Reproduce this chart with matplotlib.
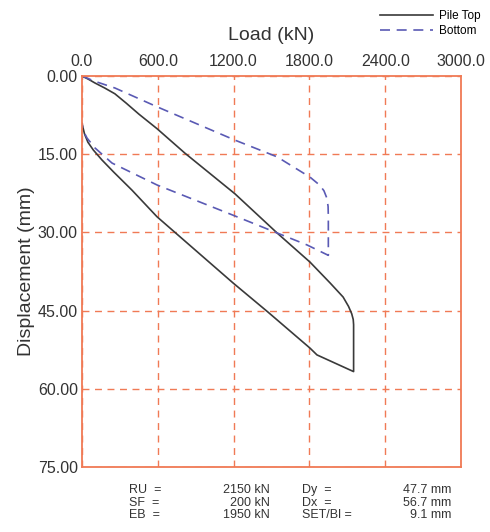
import matplotlib
matplotlib.use("Agg")
import matplotlib.pyplot as plt

plt.rcParams["font.family"] = ["Liberation Sans", "DejaVu Sans"]

# pile top: loading then unloading (load kN, displacement mm)
top_load = [0, 50, 100, 180, 260, 350, 450, 594, 815, 1211, 1544, 1805, 1964, 2067, 2110, 2135, 2147, 2150, 2150,
            1860, 1805, 1473, 1196, 594, 396, 250, 158, 90, 47, 20, 0]
top_disp = [0, 0.6, 1.3, 2.3, 3.4, 5.2, 7.3, 10.1, 14.8, 22.6, 30.1, 35.7, 39.7, 42.4, 44.2, 45.6, 46.7, 47.7, 56.7,
            53.5, 52.2, 45.3, 39.7, 27.0, 21.9, 18.4, 16.1, 14.2, 12.7, 11.1, 9.1]

# pile bottom
bot_load = [0, 100, 261, 594, 1211, 1544, 1805, 1880, 1915, 1938, 1948, 1950, 1950,
            1781, 1544, 1196, 594, 238, 103, 40, 8, 0]
bot_disp = [0, 1.0, 2.3, 5.9, 12.3, 15.5, 19.4, 20.9, 22.0, 23.4, 25.0, 27.0, 34.4,
            32.4, 30.1, 26.7, 20.9, 16.7, 13.8, 11.9, 10.4, 9.0]

x_ticks = [0, 600, 1200, 1800, 2400, 3000]
y_ticks = [0, 15, 30, 45, 60, 75]

summary_left = [("RU  =", "2150 kN"), ("SF  =", "200 kN"), ("EB  =", "1950 kN")]
summary_right = [("Dy  =", "47.7 mm"), ("Dx  =", "56.7 mm"), ("SET/Bl =", "9.1 mm")]

orange = "#f07a55"
txt = "#333333"

fig = plt.figure(figsize=(4.9, 5.32), dpi=100)
ax = fig.add_axes([0.1673, 0.1222, 0.7735, 0.7349])

l1, = ax.plot(top_load, top_disp, color="#3a3a3a", lw=1.2, label="Pile Top")
l2, = ax.plot(bot_load, bot_disp, color="#5a5ab4", lw=1.2, linestyle=(0, (6, 4)), label="Bottom")

ax.set_xlim(0, 3000)
ax.set_ylim(75, 0)
ax.set_xticks(x_ticks)
ax.set_yticks(y_ticks)
ax.set_xticklabels(["%.1f" % v for v in x_ticks])
ax.set_yticklabels(["%.2f" % v for v in y_ticks])
ax.xaxis.tick_top()
ax.xaxis.set_label_position("top")
ax.tick_params(length=0, labelsize=11.5, colors=txt)
ax.tick_params(axis="x", pad=5)
ax.tick_params(axis="y", pad=3)
ax.grid(True, color=orange, linestyle=(0, (5, 4)), lw=1)
for s in ax.spines.values():
    s.set_color(orange)
    s.set_linewidth(1.3)

ax.set_xlabel("Load (kN)", fontsize=14, color=txt, labelpad=10)
ax.set_ylabel("Displacement (mm)", fontsize=14, color=txt, labelpad=2)

fig.legend(handles=[l1, l2], loc="upper right", bbox_to_anchor=(0.995, 0.995),
           frameon=False, fontsize=8.5, handlelength=4.5, handletextpad=0.5,
           labelspacing=0.3, borderaxespad=0.2)

for i, (a, b) in enumerate(summary_left):
    y = 1 - (490 + 12.5 * i) / 532
    fig.text(129 / 490, y, a, fontsize=9, color=txt, va="center")
    fig.text(270 / 490, y, b, fontsize=9, color=txt, va="center", ha="right")
for i, (a, b) in enumerate(summary_right):
    y = 1 - (490 + 12.5 * i) / 532
    fig.text(302 / 490, y, a, fontsize=9, color=txt, va="center")
    fig.text(451 / 490, y, b, fontsize=9, color=txt, va="center", ha="right")

fig.savefig("out.png", dpi=100)
